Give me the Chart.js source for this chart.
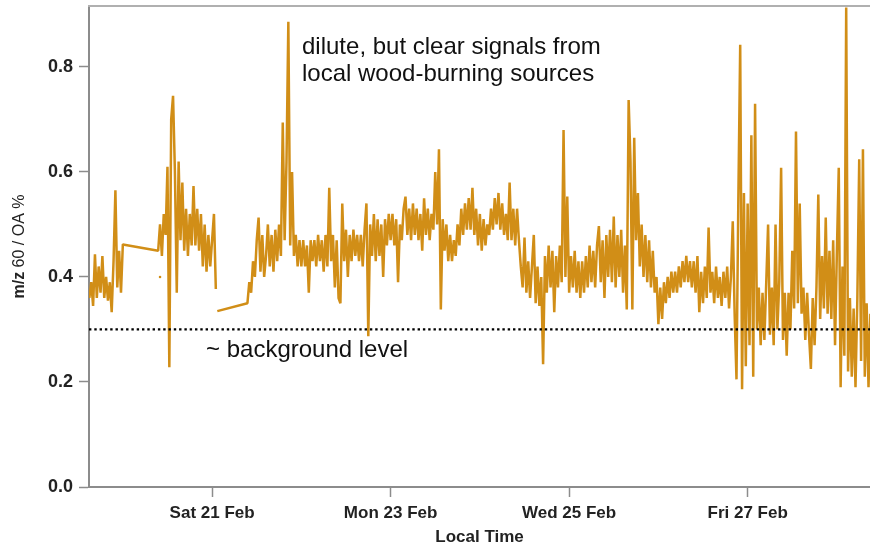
<!DOCTYPE html>
<html><head><meta charset="utf-8">
<script src="https://cdn.jsdelivr.net/npm/chart.js@4.4.1/dist/chart.umd.min.js"></script>
<style>html,body{margin:0;padding:0;background:#fff;}#wrap{width:870px;height:548px;}</style>
</head><body><div id="wrap"><canvas id="c" width="870" height="548"></canvas></div>
<script>
// x values are hours since Thu 19 Feb 00:00 local time
const tickHours = [48, 96, 144, 192];
const tickLabels = ['Sat 21 Feb', 'Mon 23 Feb', 'Wed 25 Feb', 'Fri 27 Feb'];
const yTicks = [0, 0.2, 0.4, 0.6, 0.8];
const xRange = [14.9, 224.9];
const yRange = [0, 0.916];
const backgroundLevel = 0.3;
const stepHours = 0.5;

const seg1Start = 15.0;
const seg1 = [0.36,0.39,0.345,0.443,0.36,0.42,0.37,0.44,0.36,0.40,0.355,0.39,0.333,0.43,0.565,0.38,0.45,0.37,0.462];
const seg2Start = 33.5;
const seg2 = [0.45,0.50,0.44,0.52,0.48,0.61,0.228,0.70,0.745,0.60,0.37,0.62,0.47,0.58,0.45,0.53,0.44,0.52,0.46,0.573,0.46,0.53,0.45,0.52,0.42,0.50,0.41,0.48,0.42,0.47,0.52,0.377];
const strayPoint = {t: 34.0, v: 0.40};
const gapBridge = {t: 49.4, v: 0.335};
const seg3Start = 57.5;
const seg3 = [0.35,0.39,0.37,0.43,0.40,0.47,0.513,0.41,0.48,0.40,
  0.44,0.50,0.42,0.48,0.41,0.49,0.43,0.50,0.44,0.694,
  0.47,0.618,0.886,0.46,0.60,0.44,0.48,0.42,0.47,0.42,
  0.47,0.42,0.46,0.37,0.47,0.43,0.47,0.42,0.48,0.43,
  0.47,0.41,0.48,0.42,0.57,0.43,0.48,0.38,0.47,0.36,
  0.35,0.54,0.43,0.49,0.40,0.48,0.43,0.49,0.44,0.48,
  0.43,0.48,0.42,0.49,0.54,0.287,0.50,0.44,0.52,0.43,
  0.51,0.44,0.50,0.40,0.51,0.46,0.52,0.47,0.52,0.46];
const seg4Start = 97.5;
const seg4 = [0.51,0.39,0.50,0.47,0.53,0.553,0.48,0.53,0.47,0.54,
  0.48,0.53,0.47,0.52,0.45,0.55,0.48,0.53,0.47,0.52,
  0.49,0.60,0.50,0.643,0.338,0.51,0.45,0.50,0.43,0.48,
  0.43,0.47,0.44,0.50,0.46,0.53,0.48,0.54,0.49,0.55,
  0.49,0.57,0.48,0.53,0.46,0.52,0.45,0.51,0.46,0.50,
  0.48,0.53,0.49,0.55,0.50,0.56,0.49,0.54,0.48,0.52,
  0.47,0.58,0.47,0.53,0.46,0.53,0.47,0.42,0.38,0.475,
  0.37,0.43,0.36,0.42,0.48,0.35,0.42,0.345,0.40,0.234];
const seg5Start = 137.5;
const seg5 = [0.44,0.37,0.46,0.38,0.45,0.333,0.44,0.38,0.46,0.39,
  0.68,0.40,0.553,0.37,0.44,0.38,0.45,0.37,0.43,0.36,
  0.43,0.37,0.44,0.38,0.46,0.39,0.45,0.38,0.46,0.497,
  0.39,0.47,0.36,0.48,0.40,0.49,0.39,0.515,0.38,0.48,
  0.40,0.49,0.37,0.46,0.338,0.737,0.62,0.338,0.665,0.47,
  0.56,0.42,0.50,0.40,0.48,0.39,0.47,0.38,0.45,0.37,
  0.40,0.31,0.38,0.32,0.39,0.35,0.40,0.36,0.41,0.37,
  0.41,0.37,0.42,0.38,0.43,0.39,0.44,0.39,0.43,0.38];
const seg6Start = 177.5;
const seg6 = [0.43,0.37,0.44,0.333,0.41,0.35,0.42,0.36,0.494,0.37,
  0.41,0.35,0.42,0.36,0.40,0.345,0.41,0.36,0.42,0.34,
  0.40,0.506,0.33,0.205,0.55,0.842,0.186,0.56,0.23,0.54,
  0.27,0.67,0.21,0.73,0.30,0.38,0.27,0.37,0.28,0.39,
  0.50,0.29,0.38,0.27,0.50,0.30,0.39,0.608,0.28,0.37,
  0.25,0.37,0.30,0.45,0.34,0.677,0.35,0.54,0.33,0.38,
  0.28,0.37,0.29,0.225,0.36,0.27,0.38,0.557,0.32,0.44,
  0.34,0.513,0.33,0.45,0.32,0.47,0.27,0.45,0.608,0.19];
const seg7Start = 217.5;
const seg7 = [0.42,0.25,0.913,0.22,0.36,0.21,0.34,0.19,0.36,0.624,0.24,0.643,0.21,0.35,0.19,0.33];

function pts(start, vals) { return vals.map((v, i) => ({x: start + i * stepHours, y: v})); }
const series = [].concat(
  pts(seg1Start, seg1),
  pts(seg2Start, seg2),
  [{x: seg2Start + seg2.length * stepHours - 0.2, y: null}],
  [{x: gapBridge.t, y: gapBridge.v}],
  pts(seg3Start, seg3), pts(seg4Start, seg4), pts(seg5Start, seg5),
  pts(seg6Start, seg6), pts(seg7Start, seg7)
);

const FONT = "'Liberation Sans', Arial, sans-serif";
const AXIS = '#8c8c8c';
const LINE = '#D18E17';

const extras = {
  id: 'extras',
  afterDraw(chart) {
    const ctx = chart.ctx, a = chart.chartArea;
    ctx.save();
    ctx.strokeStyle = '#b0b0b0'; ctx.lineWidth = 2;
    ctx.beginPath(); ctx.moveTo(a.left - 1, a.top); ctx.lineTo(a.right, a.top); ctx.stroke();
    ctx.fillStyle = '#111'; ctx.font = '24px ' + FONT; ctx.textBaseline = 'alphabetic'; ctx.textAlign = 'left';
    ctx.fillText('dilute, but clear signals from', 302, 54);
    ctx.fillText('local wood-burning sources', 302, 81);
    ctx.fillText('~ background level', 206, 357);
    ctx.translate(20, (a.top + a.bottom) / 2);
    ctx.rotate(-Math.PI / 2);
    ctx.fillStyle = '#222'; ctx.textBaseline = 'middle';
    const p1 = 'm/z', p2 = ' 60 / OA %';
    ctx.font = 'bold 16px ' + FONT; const w1 = ctx.measureText(p1).width;
    ctx.font = '16px ' + FONT; const w2 = ctx.measureText(p2).width;
    const x0 = -(w1 + w2) / 2;
    ctx.font = 'bold 16px ' + FONT; ctx.fillText(p1, x0, 0);
    ctx.font = '16px ' + FONT; ctx.fillText(p2, x0 + w1, 0);
    ctx.restore();
  }
};

new Chart(document.getElementById('c'), {
  type: 'line',
  data: {
    datasets: [
      {data: [{x: xRange[0], y: backgroundLevel}, {x: xRange[1], y: backgroundLevel}],
       borderColor: '#000', borderWidth: 2.2, borderDash: [2.4, 2.9], pointRadius: 0, pointHoverRadius: 0, fill: false},
      {data: series, borderColor: LINE, borderWidth: 2.5, pointRadius: 0, pointHoverRadius: 0, tension: 0,
       spanGaps: false, fill: false, borderJoinStyle: 'bevel'},
      {data: [{x: strayPoint.t, y: strayPoint.v}], showLine: false, pointRadius: 1.3, pointHoverRadius: 1.3,
       pointBackgroundColor: LINE, pointBorderWidth: 0}
    ]
  },
  options: {
    responsive: false, animation: false,
    layout: {autoPadding: false, padding: {top: 6, right: 0, left: 0, bottom: 0}},
    plugins: {legend: {display: false}, tooltip: {enabled: false}},
    scales: {
      x: {
        type: 'linear', min: xRange[0], max: xRange[1],
        afterBuildTicks: s => { s.ticks = tickHours.map(v => ({value: v})); },
        afterFit: s => { s.height = 61; s.paddingLeft = 0; s.paddingRight = 0; s.paddingTop = 0; s.paddingBottom = 0; },
        ticks: {callback: v => tickLabels[tickHours.indexOf(v)] || '', autoSkip: false, maxRotation: 0,
          font: {family: FONT, size: 17, weight: 'bold'}, color: '#222', padding: 6},
        grid: {display: true, drawOnChartArea: false, drawTicks: true, tickLength: 10, tickColor: AXIS, tickWidth: 1.5},
        border: {display: true, color: AXIS, width: 2},
        title: {display: true, text: 'Local Time', font: {family: FONT, size: 17, weight: 'bold'}, color: '#222', padding: {top: 0, bottom: 0}}
      },
      y: {
        type: 'linear', min: yRange[0], max: yRange[1],
        afterBuildTicks: s => { s.ticks = yTicks.map(v => ({value: v})); },
        afterFit: s => { s.width = 89; s.paddingLeft = 0; s.paddingRight = 0; s.paddingTop = 0; s.paddingBottom = 0; },
        ticks: {callback: v => Number(v).toFixed(1), font: {family: FONT, size: 18, weight: 'bold'}, color: '#222', padding: 6},
        grid: {display: true, drawOnChartArea: false, drawTicks: true, tickLength: 10, tickColor: AXIS, tickWidth: 1.5},
        border: {display: true, color: AXIS, width: 2}
      }
    }
  },
  plugins: [extras]
});
</script></body></html>
